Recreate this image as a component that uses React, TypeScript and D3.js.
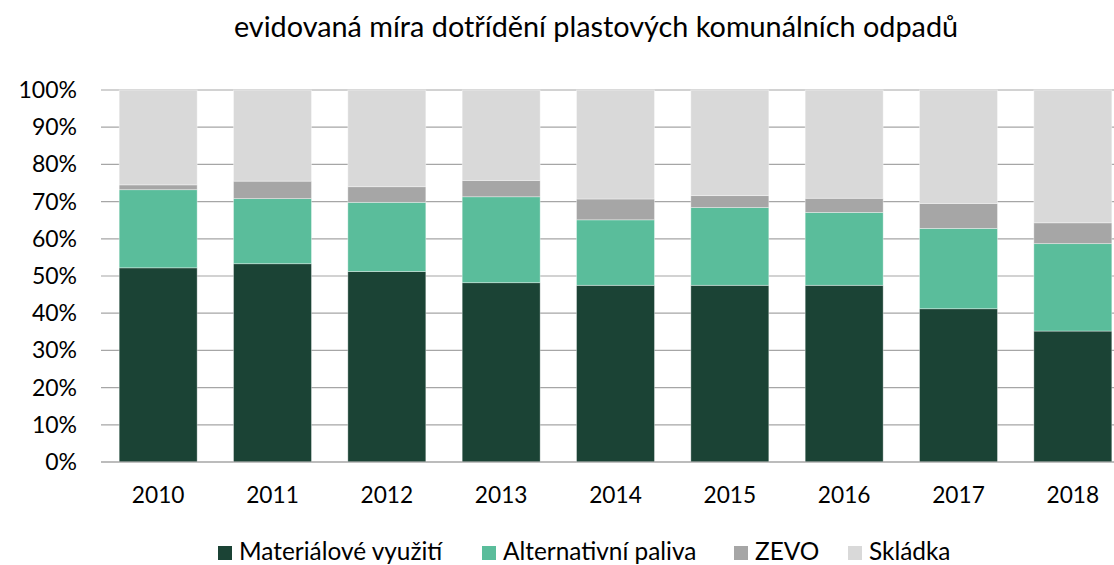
import React from "react";
import * as d3 from "d3";

const years = ["2010", "2011", "2012", "2013", "2014", "2015", "2016", "2017", "2018"];
const materialove = [52.2, 53.3, 51.2, 48.2, 47.5, 47.5, 47.5, 41.2, 35.2];
const alternativni = [21.0, 17.5, 18.6, 23.1, 17.6, 20.9, 19.6, 21.6, 23.5];
const zevo = [1.3, 4.7, 4.2, 4.4, 5.6, 3.2, 3.8, 6.7, 5.6];
const skladka = [25.5, 24.5, 26.0, 24.3, 29.3, 28.4, 29.1, 30.5, 35.7];
const seriesNames = ["Materiálové využití", "Alternativní paliva", "ZEVO", "Skládka"];
const yTicks = [0, 10, 20, 30, 40, 50, 60, 70, 80, 90, 100];
const title = "evidovaná míra dotřídění plastových komunálních odpadů";

const colors = ["#1b4335", "#5abd9b", "#a6a6a6", "#d9d9d9"];
const legendX = [218, 482, 734, 848];
const FONT = "Lato, 'Open Sans', sans-serif";

export default function App() {
  const W = 1114, H = 565;
  const x = d3.scaleBand<string>().domain(years).range([101, 1130]).paddingInner(0.318).paddingOuter(0.159);
  const y = d3.scaleLinear().domain([0, 100]).range([462, 90]);
  const rows = years.map((yr, i) => ({
    year: yr,
    s0: materialove[i],
    s1: alternativni[i],
    s2: zevo[i],
    s3: skladka[i],
  }));
  const stack = d3.stack<any>().keys(["s0", "s1", "s2", "s3"]);
  const stacked = stack(rows);

  return (
    <svg width={W} height={H} style={{ position: "absolute", left: 0, top: 0, background: "#fff" }}>
      <text x={596} y={37} textAnchor="middle" fontFamily={FONT} fontSize={28.8} fill="#000">{title}</text>
      {yTicks.map((t) => (
        <g key={t}>
          <line x1={101} x2={1114} y1={y(t)} y2={y(t)} stroke="#a6a6a6" strokeWidth={1.2} />
          <text x={77} y={y(t) + 8} textAnchor="end" fontFamily={FONT} fontSize={23} fill="#000">{t + "%"}</text>
        </g>
      ))}
      {stacked.map((layer, si) => (
        <g key={si} fill={colors[si]}>
          {layer.map((d: any, i: number) => (
            <rect
              key={i}
              x={x(years[i])}
              y={y(d[1])}
              width={x.bandwidth()}
              height={y(d[0]) - y(d[1])}
              stroke="#ffffff"
              strokeOpacity={0.45}
              strokeWidth={0.8}
            />
          ))}
        </g>
      ))}
      <line x1={101} x2={1114} y1={y(0)} y2={y(0)} stroke="#a6a6a6" strokeWidth={1.2} />
      {years.map((yr) => (
        <text key={yr} x={(x(yr) as number) + x.bandwidth() / 2} y={503} textAnchor="middle" fontFamily={FONT} fontSize={22.7} fill="#000">{yr}</text>
      ))}
      {seriesNames.map((n, i) => (
        <g key={n}>
          <rect x={legendX[i]} y={546} width={14} height={14} fill={colors[i]} />
          <text x={legendX[i] + 21} y={560} fontFamily={FONT} fontSize={24.4} fill="#000">{n}</text>
        </g>
      ))}
    </svg>
  );
}
